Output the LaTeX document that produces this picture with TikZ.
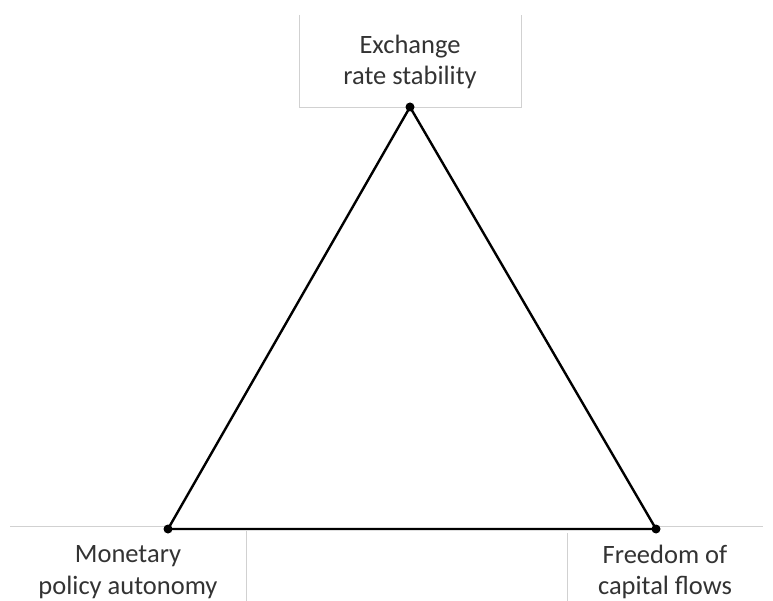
\documentclass[tikz,border=0pt]{standalone}
\usepackage{fontspec}
\setmainfont{Carlito}
\begin{document}
\begin{tikzpicture}[x=1pt,y=-1pt,
  frame/.style={draw=black!18, line width=0.8pt},
  edge/.style={draw=black, line width=2.4pt, line join=miter},
  vdot/.style={circle, fill=black, inner sep=0pt, minimum size=9pt},
  lbl/.style={align=center, font=\fontsize{26.5}{31.5}\selectfont, text=black!80, inner sep=0pt}]
\useasboundingbox (0,0) rectangle (773,601);
% frames
\draw[frame] (299,15) -- (299,107) -- (521,107) -- (521,15);
\draw[frame] (10,526) -- (168,526);
\draw[frame] (246,531) -- (246,601);
\draw[frame] (656,526) -- (763,526);
\draw[frame] (567,533) -- (567,601);
% vertices
\node[vdot] (top) at (410,107) {};
\node[vdot] (left) at (168,529) {};
\node[vdot] (right) at (656,529) {};
\draw[edge] (top.center) -- (left.center) -- (right.center) -- cycle;
% labels
\node[lbl] (t) at (410,62) {Exchange\\rate stability};
\node[lbl] (l) at (128,572) {Monetary\\policy autonomy};
\node[lbl] (r) at (665,572) {Freedom of\\capital flows};
\end{tikzpicture}
\end{document}
